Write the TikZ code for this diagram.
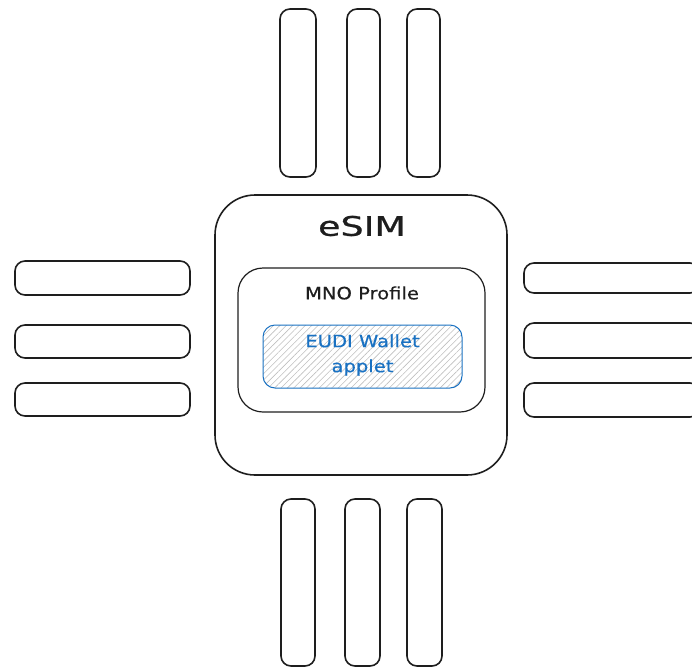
\documentclass[tikz,border=0pt]{standalone}
\usepackage{fontspec}
\setmainfont{DejaVu Sans}
\newfontfamily\skfont[FakeStretch=1.15,FakeBold=0.5]{DejaVu Sans}
\newfontfamily\skbig[FakeStretch=1.35,FakeBold=0.8]{DejaVu Sans}
\usetikzlibrary{patterns.meta}
\definecolor{skblue}{HTML}{1971C2}
\definecolor{skink}{HTML}{1E1E1E}
\tikzset{
  sk/.style={draw=skink, line width=1.6pt, rounded corners=#1, inner sep=0pt, line join=round},
  sk/.default=10pt,
  pinv/.style={sk=10pt, minimum width=34pt, minimum height=168pt},
  pinh/.style={sk=10pt, minimum width=176pt, minimum height=33pt},
  lbl/.style={text=skink, inner sep=0pt},
}
\begin{document}
\begin{tikzpicture}[x=1pt,y=-1pt]
\useasboundingbox (0,0) rectangle (692,669);
% chip body
\node[sk=40pt, minimum width=292pt, minimum height=280pt] (esim) at (361,335) {};
\node[lbl, font=\skbig\fontsize{27}{30}\selectfont] (esimlbl) at (362,226) {eSIM};
% profile
\node[draw=skink, line width=1.2pt, rounded corners=25pt, minimum width=247pt, minimum height=144pt, inner sep=0pt] (profile) at (361.5,340) {};
\node[lbl, font=\skfont\fontsize{17}{20}\selectfont] (proflbl) at (362,293) {MNO Profile};
% applet
\node[draw=skblue, line width=1pt, rounded corners=12pt, minimum width=199pt, minimum height=63pt,
      pattern={Lines[angle=45,distance=4.5pt,line width=0.6pt]}, pattern color=black!25] (appletbox) at (362.5,356.5) {};
\node[text=skblue, align=center, font=\skfont\fontsize{17}{25}\selectfont] (applet) at (362.5,355) {EUDI Wallet\\applet};
% top pins
\node[pinv, minimum width=36pt] (t1) at (298,93) {};
\node[pinv, minimum width=33pt] (t2) at (363.5,93) {};
\node[pinv, minimum width=33pt] (t3) at (423.5,93) {};
% bottom pins
\node[pinv, minimum width=34pt, minimum height=167pt] (b1) at (298,582.5) {};
\node[pinv, minimum width=35pt, minimum height=167pt] (b2) at (362.5,582.5) {};
\node[pinv, minimum width=35pt, minimum height=167pt] (b3) at (424.5,582.5) {};
% left pins
\node[pinh, minimum width=175pt, minimum height=34pt] (l1) at (102.5,278) {};
\node[pinh, minimum width=175pt] (l2) at (102.5,341.5) {};
\node[pinh, minimum width=175pt] (l3) at (102.5,399.5) {};
% right pins
\node[pinh, minimum height=30pt] (r1) at (612,278) {};
\node[pinh, minimum height=35pt] (r2) at (612,340.5) {};
\node[pinh, minimum height=34pt] (r3) at (612,400) {};
\end{tikzpicture}
\end{document}
